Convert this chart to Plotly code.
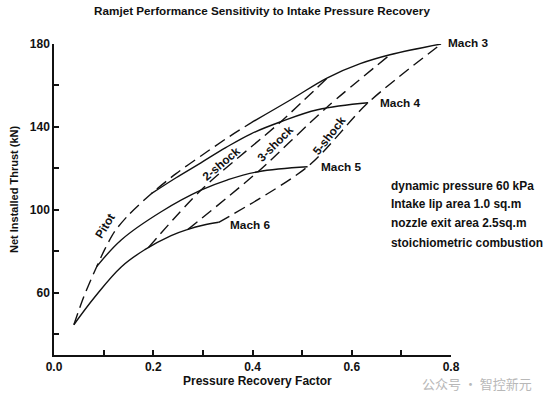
import plotly.graph_objects as go

# ---- data (pressure recovery factor, net installed thrust kN) ----
mach3_rec = [0.397, 0.477, 0.551, 0.617, 0.677, 0.780]
mach3_thr = [142.0, 153.1, 163.7, 170.5, 174.8, 180.0]

mach4_rec = [0.196, 0.246, 0.296, 0.346, 0.397, 0.457, 0.531, 0.633]
mach4_thr = [107.8, 115.5, 122.7, 130.0, 136.7, 142.5, 148.3, 151.7]

mach5_rec = [0.086, 0.136, 0.216, 0.296, 0.350, 0.411, 0.511]
mach5_thr = [72.6, 85.6, 99.1, 109.5, 114.5, 118.4, 120.8]

mach6_rec = [0.040, 0.083, 0.136, 0.183, 0.236, 0.270, 0.300, 0.332]
mach6_thr = [44.6, 58.2, 72.6, 80.8, 87.6, 90.6, 92.6, 94.0]

pitot_rec = [0.040, 0.060, 0.086, 0.102, 0.122, 0.150, 0.196, 0.246, 0.296, 0.346, 0.397]
pitot_thr = [44.6, 58.1, 72.6, 80.8, 89.5, 97.5, 107.8, 117.5, 126.0, 134.2, 142.0]

shock2_rec = [0.190, 0.296, 0.457, 0.551]
shock2_thr = [81.8, 109.5, 142.5, 163.7]

shock3_rec = [0.270, 0.411, 0.549, 0.677]
shock3_thr = [90.6, 118.4, 149.3, 174.8]

shock5_rec = [0.332, 0.511, 0.633, 0.780]
shock5_thr = [94.0, 120.8, 151.7, 180.0]

x_ticks = [0.0, 0.1, 0.2, 0.3, 0.4, 0.5, 0.6, 0.7, 0.8]
x_ticktext = ["0.0", "", "0.2", "", "0.4", "", "0.6", "", "0.8"]
y_ticks = [40, 60, 80, 100, 120, 140, 160, 180]
y_ticktext = ["", "60", "", "100", "", "140", "", "180"]

notes = ["dynamic pressure 60 kPa", "Intake lip area 1.0 sq.m",
         "nozzle exit area 2.5sq.m", "stoichiometric combustion"]

FONT = "Liberation Sans, Arial, sans-serif"
BLACK = "#111111"

# plot-area geometry in pixels
L, R, T, B = 54, 102, 44, 39
W, H = 553, 394
PW, PH = W - L - R, H - T - B


def px(xp):
    return (xp - L) / PW


def py(yp):
    return (H - B - yp) / PH


fig = go.Figure()

for rx, ty in [(mach3_rec, mach3_thr), (mach4_rec, mach4_thr),
               (mach5_rec, mach5_thr), (mach6_rec, mach6_thr)]:
    fig.add_trace(go.Scatter(x=rx, y=ty, mode="lines",
                             line=dict(color=BLACK, width=1.4, shape="spline", smoothing=1.1),
                             showlegend=False, hoverinfo="skip"))

for rx, ty in [(pitot_rec, pitot_thr), (shock2_rec, shock2_thr),
               (shock3_rec, shock3_thr), (shock5_rec, shock5_thr)]:
    fig.add_trace(go.Scatter(x=rx, y=ty, mode="lines",
                             line=dict(color=BLACK, width=1.4, dash="12px,6px",
                                       shape="spline", smoothing=0.8),
                             showlegend=False, hoverinfo="skip"))

ann_font = dict(family=FONT, size=11.8, color=BLACK, weight="bold")
note_font = dict(family=FONT, size=11.9, color=BLACK, weight="bold")
anns = []
for txt, xp, yp in [("Mach 3", 446, 43), ("Mach 4", 378, 103),
                    ("Mach 5", 319, 167), ("Mach 6", 228, 225)]:
    anns.append(dict(x=px(xp), y=py(yp), xref="paper", yref="paper", text=txt,
                     showarrow=False, xanchor="left", yanchor="middle", font=ann_font))
for txt, xp, yp, ang in [("Pitot", 105, 226, -58), ("2-shock", 221, 164, -40),
                         ("3-shock", 275, 144, -45), ("5-shock", 329, 136, -52)]:
    anns.append(dict(x=px(xp), y=py(yp), xref="paper", yref="paper", text=txt,
                     showarrow=False, xanchor="center", yanchor="middle",
                     textangle=ang, font=ann_font))
for txt, yp in zip(notes, [186, 204, 223, 243]):
    anns.append(dict(x=px(389), y=py(yp), xref="paper", yref="paper", text=txt,
                     showarrow=False, xanchor="left", yanchor="middle", font=note_font))
# axis titles
anns.append(dict(x=px(257), y=py(381), xref="paper", yref="paper",
                 text="Pressure Recovery Factor", showarrow=False,
                 xanchor="center", yanchor="middle",
                 font=dict(family=FONT, size=12, color=BLACK, weight="bold")))
anns.append(dict(x=px(14), y=py(190), xref="paper", yref="paper",
                 text="Net Installed Thrust (kN)", showarrow=False, textangle=-90,
                 xanchor="center", yanchor="middle",
                 font=dict(family=FONT, size=11, color=BLACK, weight="bold")))
# watermark
anns.append(dict(x=px(420), y=py(383), xref="paper", yref="paper", text="公众号 · 智控新元",
                 showarrow=False, xanchor="left", yanchor="middle",
                 font=dict(family="Noto Sans CJK SC", size=13, color="#b8b8b8")))

fig.update_layout(
    width=W, height=H, autosize=False,
    margin=dict(l=L, r=R, t=T, b=B),
    paper_bgcolor="white", plot_bgcolor="white",
    title=dict(text="Ramjet Performance Sensitivity to Intake Pressure Recovery",
               x=262 / W, xref="container", xanchor="center",
               y=1 - 11 / H, yref="container", yanchor="middle",
               font=dict(family=FONT, size=11.7, color=BLACK, weight="bold")),
    xaxis=dict(range=[0, 0.8], showline=True, linecolor=BLACK, linewidth=1.5,
               ticks="inside", ticklen=5, tickwidth=1.5, tickcolor=BLACK,
               tickvals=x_ticks, ticktext=x_ticktext, showgrid=False, zeroline=False,
               automargin=False,
               tickfont=dict(family=FONT, size=12, color=BLACK, weight="bold")),
    yaxis=dict(range=[30, 180], showline=True, linecolor=BLACK, linewidth=1.5,
               ticks="inside", ticklen=5, tickwidth=1.5, tickcolor=BLACK,
               tickvals=y_ticks, ticktext=y_ticktext, showgrid=False, zeroline=False,
               automargin=False,
               tickfont=dict(family=FONT, size=12, color=BLACK, weight="bold")),
    annotations=anns,
)

fig.write_html("out.html", config={"displayModeBar": False},
               post_script="document.body.style.margin='0';document.body.style.overflow='hidden';")
